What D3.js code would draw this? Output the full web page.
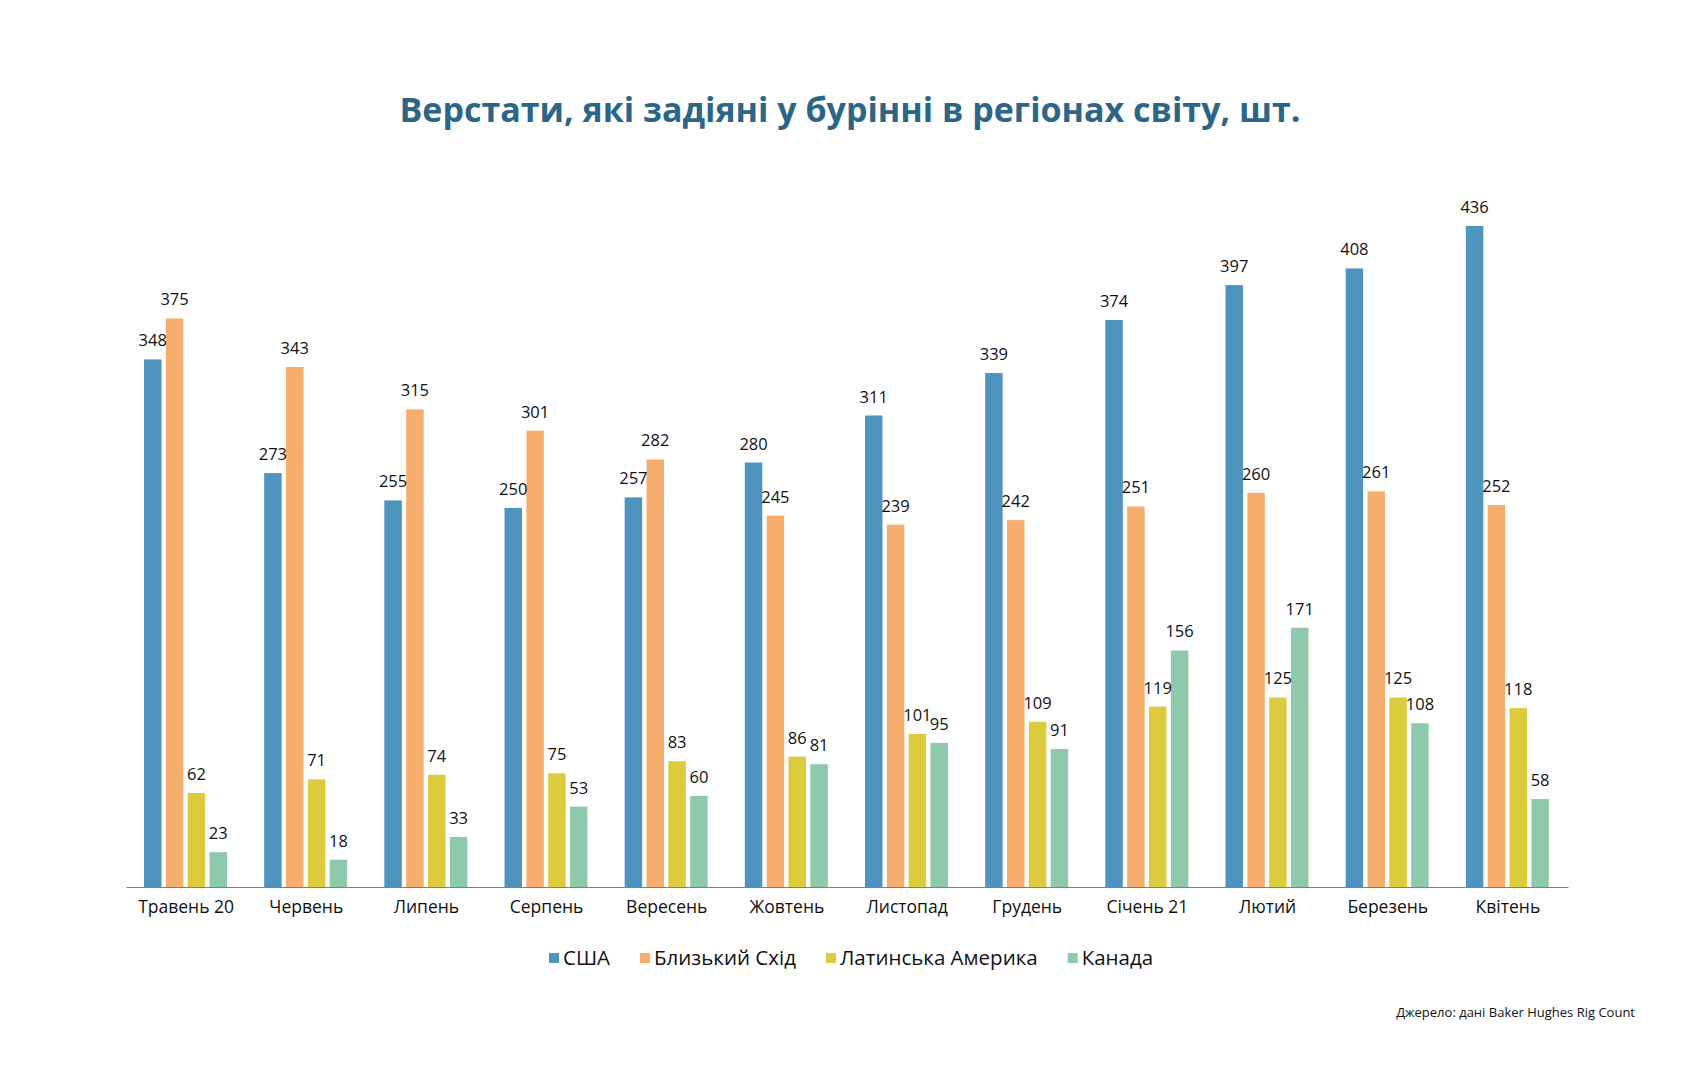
<!DOCTYPE html>
<html>
<head>
<meta charset="utf-8">
<script src="https://cdn.jsdelivr.net/npm/d3@7"></script>
<style>
  body { margin: 0; background: #fff; }
  text { font-family: "Open Sans", "Noto Sans", sans-serif; }
</style>
</head>
<body>
<script>
var months = ["Травень 20", "Червень", "Липень", "Серпень", "Вересень", "Жовтень",
              "Листопад", "Грудень", "Січень 21", "Лютий", "Березень", "Квітень"];
var series = ["США", "Близький Схід", "Латинська Америка", "Канада"];
var usa      = [348, 273, 255, 250, 257, 280, 311, 339, 374, 397, 408, 436];
var mideast  = [375, 343, 315, 301, 282, 245, 239, 242, 251, 260, 261, 252];
var latam    = [62, 71, 74, 75, 83, 86, 101, 109, 119, 125, 125, 118];
var canada   = [23, 18, 33, 53, 60, 81, 95, 91, 156, 171, 108, 58];
var colors = ["#4f93bf", "#f6ae6e", "#dccb3c", "#8fc9ab"];

var W = 1684, H = 1080;
var svg = d3.select("body").append("svg").attr("width", W).attr("height", H);

var values = [usa, mideast, latam, canada];
var rows = months.map(function (m, i) {
    return {month: m, vals: values.map(function (v) { return v[i]; })};
});

var x0 = d3.scaleBand().domain(months).range([126, 1568]);
var x1 = d3.scaleBand().domain(d3.range(4)).range([18, 101]).paddingInner(0.2);
var y = d3.scaleLinear().domain([0, 436]).range([887, 226]);
var z = d3.scaleOrdinal().domain(d3.range(4)).range(colors);

svg.append("text")
    .attr("x", 850).attr("y", 122)
    .attr("text-anchor", "middle")
    .attr("fill", "#2b6688")
    .style("font-size", "34px").style("font-weight", 700)
    .text("Верстати, які задіяні у бурінні в регіонах світу, шт.");

var groups = svg.selectAll(".gr")
    .data(rows)
    .enter().append("g")
    .attr("class", "gr")
    .attr("transform", function (d) { return "translate(" + x0(d.month) + ",0)"; });

groups.selectAll("rect")
    .data(function (d) { return d.vals; })
    .enter().append("rect")
    .attr("x", function (d, i) { return x1(i); })
    .attr("width", x1.bandwidth())
    .attr("y", function (d) { return y(d); })
    .attr("height", function (d) { return y(0) - y(d); })
    .attr("fill", function (d, i) { return z(i); });

groups.selectAll(".val")
    .data(function (d) { return d.vals; })
    .enter().append("text")
    .attr("class", "val")
    .attr("x", function (d, i) { return x1(i) + x1.bandwidth() / 2; })
    .attr("y", function (d) { return y(d) - 13; })
    .attr("text-anchor", "middle")
    .style("font-size", "16.5px")
    .attr("fill", "#111")
    .text(function (d) { return d; });

var axis = svg.append("g")
    .attr("transform", "translate(0," + y(0) + ")")
    .call(d3.axisBottom(x0).tickSize(0).tickPadding(14));
axis.select(".domain").attr("stroke", "#4f8fb0").attr("stroke-width", 1.2);
axis.selectAll("text")
    .style("font-size", "17.5px")
    .style("font-family", "\"Open Sans\", sans-serif")
    .attr("fill", "#111");

var legend = svg.append("g").attr("transform", "translate(0,958)");
var lx = 549;
series.forEach(function (s, i) {
    var g = legend.append("g").attr("transform", "translate(" + lx + ",0)");
    g.append("rect").attr("x", 0).attr("y", -5).attr("width", 10).attr("height", 10).attr("fill", colors[i]);
    var t = g.append("text").attr("x", 14).attr("y", 7)
        .style("font-size", "20.5px").attr("fill", "#111").text(s);
    lx += 14 + t.node().getComputedTextLength() + 30;
});

svg.append("text")
    .attr("x", 1635).attr("y", 1017)
    .attr("text-anchor", "end")
    .style("font-size", "13px")
    .attr("fill", "#111")
    .text("Джерело: дані Baker Hughes Rig Count");
</script>
</body>
</html>
